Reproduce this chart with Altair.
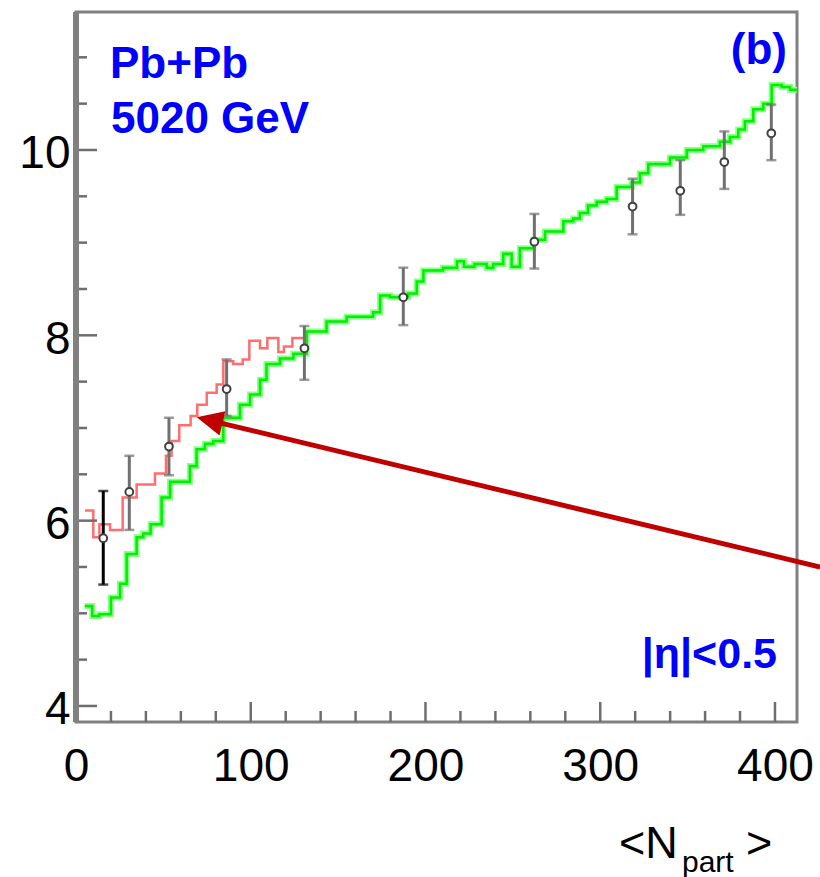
import altair as alt
import pandas as pd

# ---------------- data ----------------
green_x = [5, 9.3, 13.3, 20, 25.2, 29, 34.7, 38.5, 42.7, 49, 53.8, 65.2, 69, 73.8, 78.6, 84.3,
           93.8, 99.6, 105.3, 109, 116.7, 124.4, 132, 143.4, 154.9, 163.5, 170, 174, 179.7, 190,
           195, 198.8, 210, 218, 222, 228, 235, 238.8, 244.5, 249.3, 254, 261.7, 268.4, 278.9,
           284.6, 288.4, 293, 298, 303.7, 309.4, 318, 322.7, 327.5, 339.9, 349.5, 359, 368.5,
           374.2, 379, 382.8, 387.6, 393.3, 398.1, 403.8, 408.6, 412.6]
green_y = [5.08, 4.97, 4.99, 5.17, 5.32, 5.64, 5.82, 5.86, 5.96, 6.25, 6.42, 6.59, 6.77, 6.83, 6.86, 7.11,
           7.25, 7.36, 7.52, 7.69, 7.75, 7.80, 8.04, 8.15, 8.20, 8.20, 8.25, 8.43, 8.41, 8.45,
           8.58, 8.70, 8.73, 8.80, 8.74, 8.77, 8.73, 8.77, 8.88, 8.74, 8.94, 9.03, 9.12, 9.23,
           9.26, 9.32, 9.40, 9.44, 9.47, 9.60, 9.65, 9.75, 9.85, 9.92, 10.00, 10.04, 10.09,
           10.14, 10.22, 10.31, 10.44, 10.50, 10.70, 10.68, 10.65, 10.65]

red_x = [5.2, 9.9, 13.4, 19.5, 26.7, 34.7, 45.2, 51.5, 54.7, 59.1, 65.6, 69.4, 74.8, 80.5, 84.3,
         90, 95.4, 99.2, 105.3, 109.5, 115.8, 119, 123.8, 131]
red_y = [6.11, 5.82, 5.96, 5.90, 6.25, 6.39, 6.51, 6.70, 6.86, 7.03, 7.13, 7.25, 7.38, 7.47, 7.72,
         7.69, 7.74, 7.94, 7.86, 7.97, 7.82, 7.88, 7.97, 7.84]

pts_x = [15.6, 30.5, 53.2, 86.2, 130.7, 187.3, 262.3, 318.5, 345.8, 371.0, 397.9]
pts_y = [5.81, 6.31, 6.80, 7.42, 7.86, 8.41, 9.01, 9.39, 9.56, 9.87, 10.18]
pts_hi = [6.32, 6.70, 7.11, 7.74, 8.10, 8.73, 9.31, 9.69, 9.89, 10.20, 10.49]
pts_lo = [5.31, 5.90, 6.49, 7.13, 7.52, 8.11, 8.72, 9.09, 9.30, 9.58, 9.89]

arrow_x = [425.8, 83.5]
arrow_y = [5.50, 7.05]
arrow_tip_x = [69.1]
arrow_tip_y = [7.116]

x_major = [0, 100, 200, 300, 400]
x_minor = [20, 40, 60, 80, 120, 140, 160, 180, 220, 240, 260, 280, 320, 340, 360, 380]
y_major = [4, 6, 8, 10]
y_minor = [4.5, 5, 5.5, 6.5, 7, 7.5, 8.5, 9, 9.5, 10.5, 11]

# ---------------- layout ----------------
W, H = 721, 710
FONT = "Liberation Sans"
xs = alt.Scale(domain=[0, 412.6], nice=False, zero=False)
ys = alt.Scale(domain=[3.827, 11.489], nice=False, zero=False)
xaxis = alt.Axis(values=x_major, ticks=False, domain=False, grid=False, labelFontSize=46,
                 labelFont=FONT, labelColor="black", labelPadding=22, labelFlush=False)
yaxis = alt.Axis(values=y_major, ticks=False, domain=False, grid=False, labelFontSize=46,
                 labelFont=FONT, labelColor="black", labelPadding=6, labelOffset=4)


def X(f):
    return alt.X(f, type="quantitative", scale=xs, axis=xaxis, title=None)


def Y(f):
    return alt.Y(f, type="quantitative", scale=ys, axis=yaxis, title=None)


green = pd.DataFrame({"x": green_x, "y": green_y})
red = pd.DataFrame({"x": red_x, "y": red_y})
pts = pd.DataFrame({"x": pts_x, "y": pts_y, "hi": pts_hi, "lo": pts_lo, "i": list(range(len(pts_x)))})

green_halo = alt.Chart(green).mark_line(interpolate="step-after", color="#8CFF8C", strokeWidth=6).encode(
    x=X("x"), y=Y("y"), order="x:Q")
green_core = alt.Chart(green).mark_line(interpolate="step-after", color="#00F000", strokeWidth=2.5).encode(
    x=X("x"), y=Y("y"), order="x:Q")
red_line = alt.Chart(red).mark_line(interpolate="step-after", color="#FF6E6E", strokeWidth=2.5).encode(
    x=X("x"), y=Y("y"), order="x:Q")

err_color = alt.condition("datum.i == 0", alt.value("#000000"), alt.value("#707070"))
err_rule = alt.Chart(pts).mark_rule(strokeWidth=3).encode(
    x=X("x"), y=Y("lo"), y2="hi", color=err_color)
cap_hi = alt.Chart(pts).mark_tick(orient="horizontal", size=10, thickness=2.5).encode(
    x=X("x"), y=Y("hi"), color=err_color)
cap_lo = alt.Chart(pts).mark_tick(orient="horizontal", size=10, thickness=2.5).encode(
    x=X("x"), y=Y("lo"), color=err_color)
circles = alt.Chart(pts).mark_point(shape="circle", size=60, filled=False, fill="white",
                                    fillOpacity=1, stroke="#404040", strokeWidth=2, opacity=1).encode(
    x=X("x"), y=Y("y"))

arrow_df = pd.DataFrame({"x1": [arrow_x[0]], "x2": [arrow_x[1]], "y1": [arrow_y[0]], "y2": [arrow_y[1]]})
arrow_line = alt.Chart(arrow_df).mark_rule(color="#C00000", strokeWidth=5, clip=False).encode(
    x=X("x1"), x2="x2", y=Y("y1"), y2="y2")
tip_df = pd.DataFrame({"x": arrow_tip_x, "y": arrow_tip_y})
arrow_head = alt.Chart(tip_df).mark_point(shape="M0,0L-0.9,1.9L0.9,1.9Z", size=773, filled=True,
                                          color="#C00000", opacity=1, angle=283.5, strokeWidth=0).encode(
    x=X("x"), y=Y("y"))

# ticks (inside)
TICK = "#6e6e6e"
xmaj = alt.Chart(pd.DataFrame({"v": x_major})).mark_rule(color=TICK, strokeWidth=2.5).encode(
    x=X("v"), y=alt.value(H), y2=alt.value(H - 20))
xmin = alt.Chart(pd.DataFrame({"v": x_minor})).mark_rule(color=TICK, strokeWidth=2.5).encode(
    x=X("v"), y=alt.value(H), y2=alt.value(H - 11))
ymaj = alt.Chart(pd.DataFrame({"v": y_major})).mark_rule(color=TICK, strokeWidth=2.5).encode(
    y=Y("v"), x=alt.value(0), x2=alt.value(21))
ymin = alt.Chart(pd.DataFrame({"v": y_minor})).mark_rule(color=TICK, strokeWidth=2.5).encode(
    y=Y("v"), x=alt.value(0), x2=alt.value(11))
one = pd.DataFrame({"a": [0]})
left_axis = alt.Chart(one).mark_rule(color="#808080", strokeWidth=6).encode(
    x=alt.value(0), y=alt.value(0), y2=alt.value(H))


def label(text, x, y, size, bold=True, color="#0000FF", align="left"):
    return alt.Chart(one).mark_text(text=text, font=FONT, fontSize=size,
                                    fontWeight="bold" if bold else "normal",
                                    color=color, align=align, baseline="alphabetic").encode(
        x=alt.value(x), y=alt.value(y))


texts = [
    label("Pb+Pb", 34, 66, 44),
    label("5020 GeV", 35, 121, 44),
    label("(b)", 711, 52, 44, align="right"),
    label("|η|<0.5", 701, 656, 43, align="right"),
    label("<N", 543, 846, 45, bold=False, color="black"),
    label("part", 606, 860, 30, bold=False, color="black"),
    label(">", 670, 846, 45, bold=False, color="black"),
]

chart = alt.layer(
    green_halo, green_core, red_line, err_rule, cap_hi, cap_lo, circles,
    xmaj, xmin, ymaj, ymin, left_axis, arrow_line, arrow_head, *texts
).properties(
    width=W, height=H,
    padding={"left": 76, "top": 12, "right": 23, "bottom": 155},
    autosize=alt.AutoSizeParams(type="none"),
    background="white",
).configure_view(stroke="#808080", strokeWidth=3)

chart.save("out.html", embed_options={"renderer": "svg", "actions": False})
